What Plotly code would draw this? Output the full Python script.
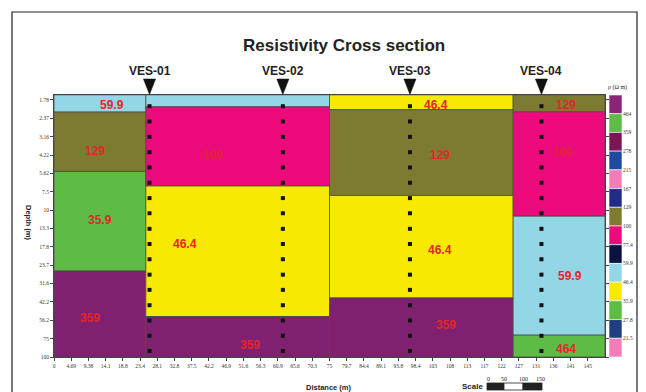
import numpy as np
import plotly.graph_objects as go

# ---------------- data ----------------
COL_EDGES = [0, 25, 75, 125, 150]                     # distance (m) of column boundaries
LAYER_BOUNDS = [                                       # depth (m) boundaries for each column
    [1.64, 2.15, 5.45, 26.0, 100],
    [1.64, 1.98, 6.85, 53.0, 100],
    [1.64, 2.07, 7.95, 39.6, 100],
    [1.64, 2.14, 11.0, 71.0, 100],
]
LAYER_RHO = [                                          # resistivity (ohm m) per layer
    [59.9, 129, 35.9, 359],
    [59.9, 100, 46.4, 359],
    [46.4, 129, 46.4, 359],
    [129, 100, 59.9, 464],
]
RHO_COLORS = {59.9: "#93D6E6", 129: "#7D7B32", 35.9: "#5DBB46", 359: "#7F2170",
              100: "#EC0A7C", 46.4: "#F7EA00", 464: "#5DBB46"}

LABEL_X = [15.8, 11.2, 12.5, 9.8, 43.3, 35.7, 53.4, 104.0, 105.0, 105.0, 106.7, 139.4, 138.6, 140.5, 139.4]
LABEL_LOGD = [0.285, 0.599, 1.068, 1.735, 0.626, 1.231, 1.918, 0.286, 0.626, 1.272, 1.782, 0.286, 0.605, 1.449, 1.946]
LABEL_TEXT = ["59.9", "129", "35.9", "359", "100", "46.4", "359", "46.4", "129", "46.4", "359",
              "129", "100", "59.9", "464"]

VES_NAMES = ["VES-01", "VES-02", "VES-03", "VES-04"]
VES_X = [26.0, 62.3, 96.9, 132.7]
SAMPLE_DEPTHS = [1.96, 2.49, 3.17, 4.03, 5.12, 6.51, 8.28, 10.5, 13.4, 17.0, 21.6, 27.5,
                 34.9, 44.4, 56.4, 71.7, 91.0]

X_TICK_LABELS = ["0", "4.69", "9.38", "14.1", "18.8", "23.4", "28.1", "32.8", "37.5", "42.2",
                 "46.9", "51.6", "56.3", "60.9", "65.6", "70.3", "75", "79.7", "84.4", "89.1",
                 "93.8", "98.4", "103", "108", "113", "117", "122", "127", "131", "136", "141", "145"]
X_TICK_VALS = [0, 4.6875, 9.375, 14.0625, 18.75, 23.4375, 28.125, 32.8125, 37.5, 42.1875,
               46.875, 51.5625, 56.25, 60.9375, 65.625, 70.3125, 75, 79.6875, 84.375, 89.0625,
               93.75, 98.4375, 103.125, 107.8125, 112.5, 117.1875, 121.875, 126.5625, 131.25,
               135.9375, 140.625, 145.3125]
Y_TICK_VALS = [1.778, 2.371, 3.162, 4.217, 5.623, 7.499, 10, 13.34, 17.78, 23.71, 31.62, 42.17, 56.23, 74.99, 100]
Y_TICK_LABELS = ["1.78", "2.37", "3.16", "4.22", "5.62", "7.5", "10", "13.3", "17.8", "23.7",
                 "31.6", "42.2", "56.2", "75", "100"]

LEGEND_COLORS = ["#8B2676", "#5DBB46", "#7D1656", "#1F4AA0", "#F27DB9", "#1F2D88", "#7D7B32",
                 "#EC0A7C", "#0B1240", "#93D6E6", "#F7EA00", "#5DBB46", "#1F3F80", "#F27DB9"]
LEGEND_LABELS = ["464", "359", "278", "215", "167", "129", "100", "77.4", "59.9", "46.4",
                 "35.9", "27.8", "21.5"]

# ---------------- layout constants (pixels of the page) ----------------
OFF = 8                      # page body margin
W, H = 646 - OFF, 392 - OFF
PL, PR_, PT, PB = 54, 630, 95, 357   # plot area in page pixels
ML, MT = PL - OFF, PT - OFF
MR = W - (PR_ - OFF)
MB = H - (PB - OFF)
PW = PR_ - PL
PH = PB - PT


def px(xp):
    return (xp - PL) / PW


def py(yp):
    return (PB - yp) / PH


fig = go.Figure()

# layers
for c in range(4):
    x0, x1 = COL_EDGES[c], COL_EDGES[c + 1]
    for k, rho in enumerate(LAYER_RHO[c]):
        d0, d1 = LAYER_BOUNDS[c][k], LAYER_BOUNDS[c][k + 1]
        fig.add_trace(go.Scatter(
            x=[x0, x1, x1, x0, x0], y=[d0, d0, d1, d1, d0],
            mode="lines", fill="toself", fillcolor=RHO_COLORS[rho],
            line=dict(color="#4a4a4a", width=0.8), hoverinfo="skip", showlegend=False))

# sounding points
for vx in VES_X:
    fig.add_trace(go.Scatter(
        x=[vx] * len(SAMPLE_DEPTHS), y=SAMPLE_DEPTHS, mode="markers",
        marker=dict(symbol="square", size=4, color="#111"), showlegend=False, hoverinfo="skip"))

# legend boxes (discrete colour scale)
fig.add_trace(go.Bar(
    x=[0] * len(LEGEND_COLORS), y=[1] * len(LEGEND_COLORS), base=list(range(len(LEGEND_COLORS))),
    width=1, marker=dict(color=LEGEND_COLORS, line=dict(color="white", width=0.6)),
    xaxis="x2", yaxis="y2", showlegend=False, hoverinfo="skip"))

# labels
for lx, ly, lt in zip(LABEL_X, LABEL_LOGD, LABEL_TEXT):
    fig.add_annotation(x=lx, y=ly, xref="x", yref="y", text=f"<b>{lt}</b>", showarrow=False,
                       xanchor="center", yanchor="middle",
                       font=dict(family="Liberation Sans", size=12, color="#E3262B"))


def note(x, y, text, size, family="Liberation Sans", xref="paper", angle=0):
    fig.add_annotation(x=x, y=y, xref=xref, yref="paper", text=text, showarrow=False,
                       xanchor="center", yanchor="middle", textangle=angle,
                       font=dict(family=family, size=size, color="#222"))


shapes = []
# VES triangles and names
for name, vx in zip(VES_NAMES, VES_X):
    hw = 1.65
    shapes.append(dict(type="path", xref="x", yref="paper",
                       path=f"M {vx - hw},{py(79)} L {vx + hw},{py(79)} L {vx},{py(94.5)} Z",
                       fillcolor="#111", line=dict(color="#111", width=0.5)))
    note(vx, py(71), f"<b>{name}</b>", 12, xref="x")

# figure frame
shapes.append(dict(type="rect", xref="paper", yref="paper", x0=px(12), x1=px(637), y0=py(420), y1=py(12),
                   line=dict(color="#222", width=1.2), fillcolor="rgba(0,0,0,0)", layer="below"))

# scale bar
for a, b, col in [(487, 504, "#222"), (504, 523, "white"), (523, 542, "#222")]:
    shapes.append(dict(type="rect", xref="paper", yref="paper", x0=px(a), x1=px(b), y0=py(390), y1=py(383),
                       fillcolor=col, line=dict(color="#222", width=0.8)))
for xx, t in [(488, "0"), (504, "50"), (523, "100"), (540, "150")]:
    note(px(xx), py(379), t, 6, family="Liberation Serif")
note(px(472), py(386), "<b>Scale</b>", 8)

# title and axis titles
note(px(344), py(45), "<b>Resistivity Cross section</b>", 17)
note(px(329), py(387), "<b>Distance (m)</b>", 7.5)
note(px(29), py(222), "<b>Depth (m)</b>", 7.5, angle=90)
note(px(617), py(88), "ρ (Ω m)", 6, family="Liberation Serif")

fig.update_layout(
    width=W, height=H, margin=dict(l=ML, r=MR, t=MT, b=MB),
    paper_bgcolor="white", plot_bgcolor="white", shapes=shapes, showlegend=False,
    xaxis=dict(domain=[0, px(605)], range=[0, 150], tickvals=X_TICK_VALS, ticktext=X_TICK_LABELS,
               ticks="outside", ticklen=3, tickcolor="#444", showgrid=False, zeroline=False,
               showline=True, linecolor="#444", linewidth=1, mirror=True,
               tickfont=dict(family="Liberation Serif", size=5.5, color="#333")),
    yaxis=dict(type="log", range=[2, 0.216], tickvals=Y_TICK_VALS, ticktext=Y_TICK_LABELS,
               ticks="outside", ticklen=3, tickcolor="#444", showgrid=False, zeroline=False,
               showline=True, linecolor="#444", linewidth=1, mirror="ticks",
               tickfont=dict(family="Liberation Serif", size=5.5, color="#333")),
    xaxis2=dict(domain=[px(609), px(622)], range=[-0.5, 0.5], visible=False, anchor="y2"),
    yaxis2=dict(domain=[0, 1], range=[14, 0], anchor="x2", side="right",
                tickvals=list(range(1, 14)), ticktext=LEGEND_LABELS, ticks="", showgrid=False,
                zeroline=False, showline=False,
                tickfont=dict(family="Liberation Serif", size=5.5, color="#333")),
)

fig.write_html("out.html")
